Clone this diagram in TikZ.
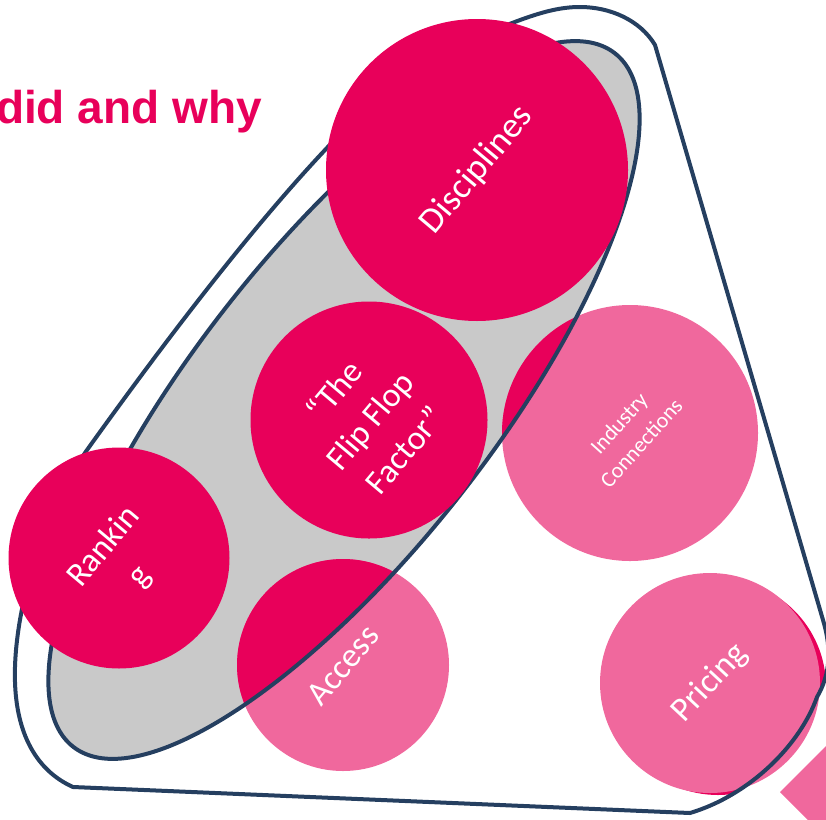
\documentclass[tikz,border=0pt]{standalone}
\usepackage{fontspec}
\setmainfont{Carlito}
\newfontfamily\titlefont{Liberation Sans}
\definecolor{mag}{HTML}{E8005A}
\definecolor{pnk}{HTML}{F0689D}
\definecolor{gry}{HTML}{C9C9C9}
\definecolor{navy}{HTML}{253F60}
\newcommand\OutlinePathX{(655,45) -- (823,620)
  .. controls (832,650) and (830,675) .. (817,697)
  .. controls (800,745) and (750,795) .. (690,813)
  -- (73,787)
  .. controls (35,770) and (13,730) .. (15,667)
  .. controls (17,600) and (45,510) .. (87,450)
  .. controls (155,355) and (245,235) .. (325,150)
  .. controls (390,80) and (450,45) .. (507,25)
  .. controls (540,12) and (560,7) .. (580,7)
  .. controls (610,7) and (640,20) .. cycle}
\begin{document}
\begin{tikzpicture}[x=1pt,y=-1pt,
  bub/.style={circle, inner sep=0pt, minimum size=#1},
  lbl/.style={text=white, align=center, inner sep=0pt, rotate=50, font=\fontsize{34}{46}\selectfont},
  edge/.style={draw=navy, line width=4pt, line join=round},
  ell/.style={rotate around={52:(ec)}}]
\useasboundingbox (0,0) rectangle (826,819);
% pink square bottom right
\fill[pnk] (780,792) -- (850,722) -- (920,792) -- (850,862) -- cycle;
% grey ellipse
\coordinate (ec) at (344,400);
\fill[gry, ell] (ec) ellipse [x radius=440, y radius=150];
% pink circles partly inside ellipse
\node[bub=212pt, fill=pnk] (access) at (343,665) {};
\node[bub=256pt, fill=pnk] (indus) at (630,433) {};
\begin{scope}
  \clip[ell] (ec) ellipse [x radius=440, y radius=150];
  \fill[mag] (access.center) circle [radius=106];
  \fill[mag] (indus.center) circle [radius=128];
\end{scope}
\draw[edge, ell] (ec) ellipse [x radius=440, y radius=150];
% flip flop
\node[bub=237pt, fill=mag] (flip) at (369,420) {};
% pricing with shadow
\coordinate (psh) at (718,687);
\begin{scope}
  \clip \OutlinePathX;
  \fill[mag] (psh) circle [radius=108];
\end{scope}
\node[bub=220pt, fill=pnk] (pricing) at (710,683) {};
% outer outline
\draw[edge] \OutlinePathX;
% top circles
\node[bub=302pt, fill=mag] (disc) at (477,170) {};
\node[bub=221pt, fill=mag] (rank) at (119,558) {};
% labels
\node[lbl, font=\fontsize{36}{42}\selectfont] (tdisc) at (disc) {Disciplines};
\node[lbl] (tflip) at (flip) {“The\\Flip Flop\\Factor”};
\node[lbl] (trank) at ([xshift=3pt,yshift=-4pt]rank.center) {Rankin\\g};
\node[lbl] (tacc) at (access) {Access};
\node[lbl, rotate=-2, font=\fontsize{22}{30}\selectfont] (tind) at (indus) {Industry\\Connections};
\node[lbl, rotate=-3] (tpri) at (pricing) {Pricing};
% title
\node[anchor=base east, inner sep=0pt, text=mag, font=\titlefont\bfseries\fontsize{46}{50}\selectfont] (title) at (262,123) {did and why};
\end{tikzpicture}
\end{document}
